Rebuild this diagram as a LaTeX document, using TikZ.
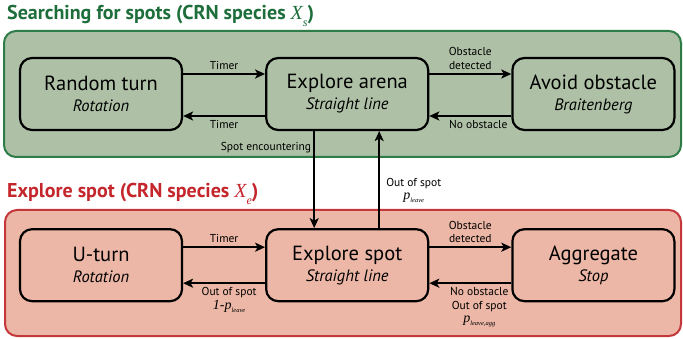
\documentclass[tikz,border=0pt]{standalone}
\usepackage{fontspec}
\setmainfont{PT Sans}
\newfontfamily\tms{Liberation Serif}
\usepackage{xcolor}
\usetikzlibrary{positioning,arrows.meta}
\definecolor{spotsfill}{HTML}{AEC1A6}
\definecolor{spotsline}{HTML}{2E7D48}
\definecolor{spotstext}{HTML}{1E6E3C}
\definecolor{explorefill}{HTML}{ECB7A6}
\definecolor{exploreline}{HTML}{C4373A}
\definecolor{exploretext}{HTML}{C4262C}
\newcommand{\stname}[1]{{\fontsize{20.5}{22}\selectfont #1}}
\newcommand{\stmode}[1]{{\fontsize{16.5}{18}\selectfont\itshape #1}}
\newcommand{\pvar}[1]{{\tms\itshape\fontsize{14}{14}\selectfont p\raisebox{-0.2em}{\fontsize{6.5}{7}\selectfont #1}}}
\newcommand{\spec}[1]{{\tms\itshape\mdseries X\raisebox{-0.35em}{\fontsize{12}{12}\selectfont #1}}}

\begin{document}
\begin{tikzpicture}[
  x=1pt, y=-1pt,
  node distance=97pt and 82pt,
  state/.style={draw, line width=2.2pt, rounded corners=12pt, align=center, minimum width=162pt, minimum height=72pt, inner sep=2pt, font=\fontsize{16}{21}\selectfont},
  flow/.style={-{Stealth[length=10pt,width=9pt,inset=2.5pt]}, line width=2.2pt},
  lbl/.style={font=\fontsize{11.5}{13.5}\selectfont, align=center},
  zone/.style={line width=2pt, rounded corners=12pt},
  title/.style={anchor=base west, inner sep=0pt, font=\fontsize{20}{24}\selectfont\bfseries}
]
\useasboundingbox (0,0) rectangle (683,339);

% the two groups of states
\filldraw[zone, draw=spotsline, fill=spotsfill] (4,31) rectangle (681,157);
\filldraw[zone, draw=exploreline, fill=explorefill] (5,210) rectangle (681,336);
\node[title, text=spotstext] (ttlsearch) at (7,20) {Searching for spots (CRN species \spec{s})};
\node[title, text=exploretext] (ttlexplore) at (7,198) {Explore spot (CRN species \spec{e})};

% searching row
\node[state] (rturn) at (101,94) {\stname{Random turn}\\\stmode{Rotation}};
\node[state, right=of rturn] (earena) {\stname{Explore arena}\\\stmode{Straight line}};
\node[state, right=of earena] (avoid) {\stname{Avoid obstacle}\\\stmode{Braitenberg}};

% explore spot row
\node[state, below=of earena] (espot) {\stname{Explore spot}\\\stmode{Straight line}};
\node[state, left=of espot] (uturn) {\stname{U-turn}\\\stmode{Rotation}};
\node[state, right=of espot] (aggr) {\stname{Aggregate}\\\stmode{Stop}};

\draw[flow] ([yshift=20pt]rturn.east) -- ([yshift=20pt]earena.west) node[lbl, midway, above] {Timer};
\draw[flow] ([yshift=-22pt]earena.west) -- ([yshift=-22pt]rturn.east) node[lbl, midway, below] {Timer};
\draw[flow] ([yshift=20pt]earena.east) -- ([yshift=20pt]avoid.west) node[lbl, midway, above] {Obstacle\\detected};
\draw[flow] ([yshift=-22pt]avoid.west) -- ([yshift=-22pt]earena.east) node[lbl, midway, below, xshift=8pt] {No obstacle};

\draw[flow] ([yshift=18pt]uturn.east) -- ([yshift=18pt]espot.west) node[lbl, midway, above] {Timer};
\draw[flow] ([yshift=-18pt]espot.west) -- ([yshift=-18pt]uturn.east) node[lbl, midway, below, xshift=5pt] {Out of spot\\{\tms\itshape\fontsize{14}{14}\selectfont 1-}\pvar{leave}};
\draw[flow] ([yshift=18pt]espot.east) -- ([yshift=18pt]aggr.west) node[lbl, midway, above] {Obstacle\\detected};
\draw[flow] ([yshift=-18pt]aggr.west) -- ([yshift=-18pt]espot.east) node[lbl, midway, below, xshift=9pt] {No obstacle\\Out of spot\\\pvar{leave,agg}};

% between the groups
\draw[flow] ([xshift=-33pt]earena.south) -- ([xshift=-33pt]espot.north) node[lbl, pos=0.17, left, inner sep=2pt] {Spot encountering};
\draw[flow] ([xshift=32pt]espot.north) -- ([xshift=32pt]earena.south) node[lbl, pos=0.39, right, inner sep=6pt] {Out of spot\\\pvar{leave}};
\end{tikzpicture}
\end{document}
